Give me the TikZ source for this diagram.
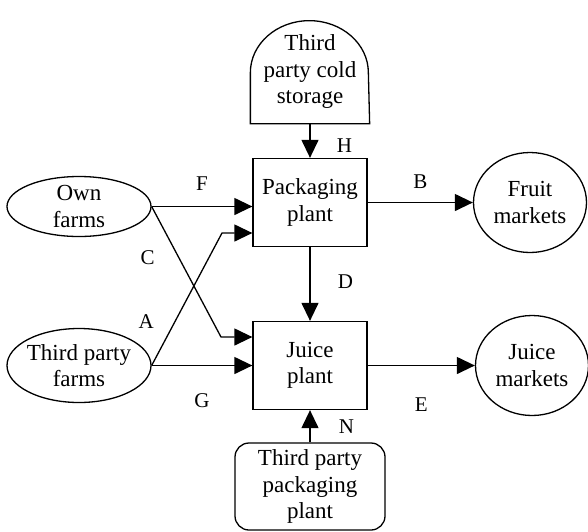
\documentclass[tikz,border=0pt]{standalone}
\usepackage{fontspec}
\setmainfont{Liberation Serif}
\usetikzlibrary{arrows.meta,positioning,shapes.geometric}

\begin{document}
\begin{tikzpicture}[x=1pt,y=-1pt,on grid,line width=1.3pt,
    >={Triangle[length=18pt,width=17pt]},
    every node/.style={font=\fontsize{23pt}{26.5pt}\selectfont,align=center},
    box/.style={draw,rectangle,minimum width=114pt,minimum height=88pt,inner sep=0pt},
    farm/.style={draw,ellipse,minimum width=144pt,inner xsep=-1.5pt},
    market/.style={draw,ellipse,minimum width=113pt,minimum height=100pt,inner sep=0pt},
    store/.style={rectangle,minimum width=118pt,minimum height=103pt,inner sep=0pt},
    supplier/.style={draw,rectangle,rounded corners=14pt,minimum width=150pt,minimum height=87pt,inner sep=0pt},
    lbl/.style={font=\fontsize{21pt}{24pt}\selectfont}]
   \useasboundingbox (0,0) rectangle (588,531);
   \node[box] (pack) at (310,202.5) {Packaging\\plant};
   \node[box] (juice) [below=163pt of pack] {Juice\\plant};
   \node[market] (fruit) [right=220pt of pack] {Fruit\\markets};
   \node[market] (jmkt) [right=222pt of juice] {Juice\\markets};
   \node[farm,minimum height=60pt,inner ysep=-5pt] (own) [left=231pt of pack,yshift=-4pt] {Own\\farms};
   \node[farm,minimum height=74pt,inner ysep=0pt] (tpfarm) [left=231pt of juice] {Third party\\farms};
   \node[store] (cold) [above=131pt of pack] {Third\\party cold\\storage};
   \node[supplier] (tppack) [below=121pt of juice] {Third party\\packaging\\plant};

   \draw (cold.south west) -- ([yshift=51pt]cold.south west)
      arc[start angle=180,end angle=0,x radius=59pt,y radius=52pt]
      -- (cold.south east) -- cycle;

   \coordinate (abend) at (222,233);
   \coordinate (cbend) at (221,337);

   \path[->]
    (cold.south) edge node[lbl,right=23pt,pos=.63] {H} (pack.north)
    (pack.south) edge node[lbl,right=24pt,pos=.47] {D} (juice.north)
    (tppack.north) edge node[lbl,right=25pt,pos=.48] {N} (juice.south)
    (pack.east) edge node[lbl,above=10pt] {B} (fruit.west)
    (juice.east) edge node[lbl,below=28pt] {E} (jmkt.west)
    (own.east) edge node[lbl,above=12pt] {F} (own.east -| pack.west)
    (tpfarm.east) edge node[lbl,below=24pt] {G} (tpfarm.east -| juice.west);

   \draw[->] (own.east) -- node[lbl,pos=.39,left=20pt] {C} (cbend) -- (cbend -| juice.west);
   \draw[->] (tpfarm.east) -- node[lbl,pos=.33,left=17pt] {A} (abend) -- (abend -| pack.west);
\end{tikzpicture}
\end{document}
